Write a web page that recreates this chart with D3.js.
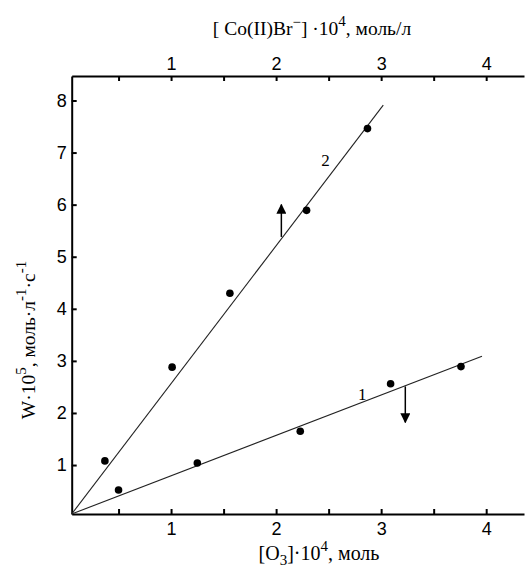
<!DOCTYPE html>
<html>
<head>
<meta charset="utf-8">
<script src="https://cdn.jsdelivr.net/npm/d3@7"></script>
<style>
  body { margin: 0; background: #fff; }
  text { font-family: "Liberation Serif", serif; fill: #000; }
  .tick text { font-family: "Liberation Sans", sans-serif; font-size: 18px; }
</style>
</head>
<body>
<div id="chart"></div>
<script>
// points, [O3]*10^4 / W*10^5
var curve1X = [0.50, 1.25, 2.23, 3.09, 3.76];
var curve1Y = [0.52, 1.04, 1.65, 2.56, 2.89];
var curve2X = [0.37, 1.01, 1.56, 2.29, 2.87];
var curve2Y = [1.08, 2.88, 4.30, 5.89, 7.46];

// fitted lines, start and end
var line1X = [0.054, 3.96];
var line1Y = [0.06, 3.09];
var line2X = [0.054, 3.02];
var line2Y = [0.06, 7.91];

// arrows: x, from y, to y
var arrowX = [2.05, 3.23];
var arrowFrom = [5.38, 2.51];
var arrowTo = [6.00, 1.82];

var labelText = ["1", "2"];
var labelX = [2.82, 2.47];
var labelY = [2.37, 6.85];

var xTicks = [0.5, 1, 1.5, 2, 2.5, 3, 3.5, 4];
var yTicks = [1, 2, 3, 4, 5, 6, 7, 8];

var width = 525, height = 570;

var svg = d3.select("#chart").append("svg")
    .attr("width", width)
    .attr("height", height);

var x = d3.scaleLinear().domain([0.054, 4.36]).range([71.7, 524]);
var y = d3.scaleLinear().domain([0.06, 8.47]).range([514, 76]);

function intLabel(d) { return Number.isInteger(d) ? d : ""; }

var xAxis = svg.append("g")
    .attr("transform", "translate(0," + y(0.06) + ")")
    .call(d3.axisBottom(x).tickValues(xTicks).tickSize(-5).tickSizeOuter(0).tickPadding(8).tickFormat(intLabel));

var topAxis = svg.append("g")
    .attr("transform", "translate(0," + y(8.47) + ")")
    .call(d3.axisTop(x).tickValues(xTicks).tickSize(-5).tickSizeOuter(0).tickPadding(6).tickFormat(intLabel));

var yAxis = svg.append("g")
    .attr("transform", "translate(" + x(0.054) + ",0)")
    .call(d3.axisLeft(y).tickValues(yTicks).tickSize(-5).tickSizeOuter(0).tickPadding(5));

svg.selectAll(".domain").attr("stroke", "#000").attr("stroke-width", 2);
svg.selectAll(".tick line").attr("stroke", "#000").attr("stroke-width", 2);

// fit lines
var lineGen = d3.line().x(function(d) { return x(d[0]); }).y(function(d) { return y(d[1]); });
[[line1X, line1Y], [line2X, line2Y]].forEach(function(l) {
    svg.append("path")
        .datum(d3.zip(l[0], l[1]))
        .attr("d", lineGen)
        .attr("fill", "none")
        .attr("stroke", "#222")
        .attr("stroke-width", 1.1);
});

// points
[[curve1X, curve1Y], [curve2X, curve2Y]].forEach(function(c) {
    svg.selectAll(null)
        .data(d3.zip(c[0], c[1]))
        .enter().append("circle")
        .attr("cx", function(d) { return x(d[0]); })
        .attr("cy", function(d) { return y(d[1]); })
        .attr("r", 3.8)
        .attr("fill", "#000");
});

// arrows
svg.append("defs").append("marker")
    .attr("id", "head")
    .attr("viewBox", "0 0 10 10")
    .attr("refX", 9).attr("refY", 5)
    .attr("markerWidth", 10).attr("markerHeight", 10)
    .attr("markerUnits", "userSpaceOnUse")
    .attr("orient", "auto")
    .append("path")
    .attr("d", "M0,0 L10,5 L0,10 Z")
    .attr("fill", "#000");

arrowX.forEach(function(ax, i) {
    svg.append("line")
        .attr("x1", x(ax)).attr("x2", x(ax))
        .attr("y1", y(arrowFrom[i])).attr("y2", y(arrowTo[i]))
        .attr("stroke", "#000")
        .attr("stroke-width", 1.5)
        .attr("marker-end", "url(#head)");
});

// curve numbers
svg.selectAll(null)
    .data(labelText)
    .enter().append("text")
    .attr("x", function(d, i) { return x(labelX[i]); })
    .attr("y", function(d, i) { return y(labelY[i]); })
    .attr("text-anchor", "middle")
    .attr("dy", "0.35em")
    .style("font-size", "17px")
    .text(function(d) { return d; });

// axis titles
var bottomTitle = svg.append("text")
    .attr("x", 319).attr("y", 560)
    .attr("text-anchor", "middle")
    .style("font-size", "20px");
bottomTitle.append("tspan").text("[O");
bottomTitle.append("tspan").attr("dy", 5).style("font-size", "15px").text("3");
bottomTitle.append("tspan").attr("dy", -5).text("]\u00b710");
bottomTitle.append("tspan").attr("dy", -9).style("font-size", "15px").text("4");
bottomTitle.append("tspan").attr("dy", 9).text(", моль");

var topTitle = svg.append("text")
    .attr("x", 312).attr("y", 35)
    .attr("text-anchor", "middle")
    .style("font-size", "19.5px");
topTitle.append("tspan").text("[ Co(II)Br");
topTitle.append("tspan").attr("dy", -8).style("font-size", "15px").text("\u2212");
topTitle.append("tspan").attr("dy", 8).text("] \u00b710");
topTitle.append("tspan").attr("dy", -9).style("font-size", "15px").text("4");
topTitle.append("tspan").attr("dy", 9).text(", моль/л");

var leftTitle = svg.append("text")
    .attr("transform", "translate(35,340) rotate(-90)")
    .attr("text-anchor", "middle")
    .style("font-size", "19.5px");
leftTitle.append("tspan").text("W\u00b710");
leftTitle.append("tspan").attr("dy", -9).style("font-size", "15px").text("5");
leftTitle.append("tspan").attr("dy", 9).text(", моль\u00b7л");
leftTitle.append("tspan").attr("dy", -9).style("font-size", "15px").text("-1");
leftTitle.append("tspan").attr("dy", 9).text("\u00b7с");
leftTitle.append("tspan").attr("dy", -9).style("font-size", "15px").text("-1");
</script>
</body>
</html>
